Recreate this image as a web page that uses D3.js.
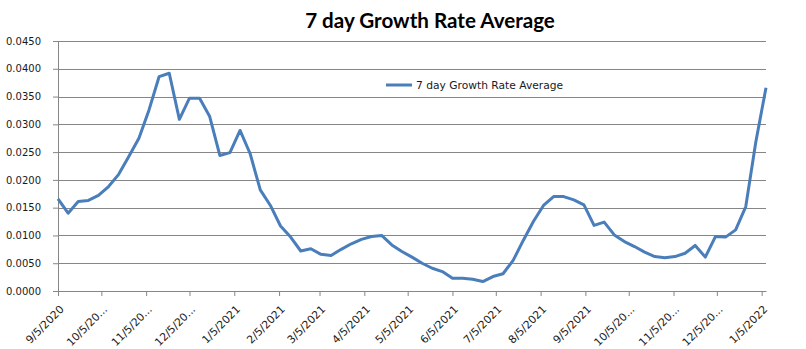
<!DOCTYPE html>
<html>
<head>
<meta charset="utf-8">
<script src="https://cdn.jsdelivr.net/npm/d3@7"></script>
<style>
  body { margin: 0; background: #fff; }
  svg { display: block; }
</style>
</head>
<body>
<div id="chart"></div>
<script>
// weekly points, first one on 9/5/2020
var startDate = "2020-09-05";
var growth = [
  0.0166, 0.0140, 0.0161, 0.0163, 0.0172, 0.0188, 0.0210, 0.0242, 0.0275, 0.0326,
  0.0386, 0.0392, 0.0309, 0.0347, 0.0347, 0.0314, 0.0244, 0.0249, 0.0289, 0.0247,
  0.0182, 0.0154, 0.0117, 0.0097, 0.0072, 0.0076, 0.0066, 0.0064, 0.0075, 0.0085,
  0.0093, 0.0098, 0.0100, 0.0083, 0.0071, 0.0061, 0.0050, 0.0041, 0.0035, 0.0023,
  0.0023, 0.0021, 0.0017, 0.0026, 0.0031, 0.0055, 0.0091, 0.0125, 0.0154, 0.0170,
  0.0170, 0.0164, 0.0155, 0.0118, 0.0124, 0.0101, 0.0089, 0.0080, 0.0070, 0.0062,
  0.0060, 0.0062, 0.0068, 0.0082, 0.0061, 0.0098, 0.0097, 0.0110, 0.0152, 0.0269,
  0.0366
];
var tickDates = ["2020-09-05","2020-10-05","2020-11-05","2020-12-05","2021-01-05","2021-02-05",
  "2021-03-05","2021-04-05","2021-05-05","2021-06-05","2021-07-05","2021-08-05","2021-09-05",
  "2021-10-05","2021-11-05","2021-12-05","2022-01-05"];
var tickLabels = ["9/5/2020","10/5/20...","11/5/20...","12/5/20...","1/5/2021","2/5/2021",
  "3/5/2021","4/5/2021","5/5/2021","6/5/2021","7/5/2021","8/5/2021","9/5/2021",
  "10/5/20...","11/5/20...","12/5/20...","1/5/2022"];
var yTicks = [0, 0.005, 0.01, 0.015, 0.02, 0.025, 0.03, 0.035, 0.04, 0.045];
var seriesName = "7 day Growth Rate Average";

var W = 806, H = 349;
var margin = {top: 41, right: 40, bottom: 58, left: 58},
    width = W - margin.left - margin.right,
    height = H - margin.top - margin.bottom;

var parse = d3.utcParse("%Y-%m-%d");
var t0 = parse(startDate);
var data = growth.map(function(v, i) {
  return {date: d3.utcDay.offset(t0, i * 7), value: v};
});

var svg = d3.select("#chart").append("svg")
    .attr("width", W)
    .attr("height", H);

var g = svg.append("g")
    .attr("transform", "translate(" + margin.left + "," + margin.top + ")");

var x = d3.scaleUtc()
    .domain([t0, data[data.length - 1].date])
    .range([0, width]);

var y = d3.scaleLinear()
    .domain([0, 0.045])
    .range([height, 0]);

// gridlines
g.append("g").selectAll("line")
  .data(yTicks)
  .enter().append("line")
    .attr("x1", 0).attr("x2", width)
    .attr("y1", function(d) { return Math.round(y(d)) + 0.5; })
    .attr("y2", function(d) { return Math.round(y(d)) + 0.5; })
    .attr("stroke", "#868686")
    .attr("stroke-width", 1);

// y axis
var yAxis = d3.axisLeft(y)
    .tickValues(yTicks)
    .tickSize(5)
    .tickPadding(12)
    .tickFormat(d3.format(".4f"));
var ya = g.append("g").call(yAxis);
ya.select(".domain").attr("stroke", "#868686");
ya.selectAll(".tick line").attr("stroke", "#868686");
ya.selectAll("text")
    .style("font-family", "DejaVu Sans")
    .style("font-size", "10px")
    .attr("fill", "#1a1a1a");

// x axis
var xAxis = d3.axisBottom(x)
    .tickValues(tickDates.map(parse))
    .tickSize(5)
    .tickSizeOuter(0)
    .tickFormat(function(d, i) { return tickLabels[i]; });
var xa = g.append("g")
    .attr("transform", "translate(0," + height + ")")
    .call(xAxis);
xa.select(".domain").attr("stroke", "#868686");
xa.selectAll(".tick line").attr("stroke", "#868686");
xa.selectAll("text")
    .style("font-family", "DejaVu Sans")
    .style("font-size", "10.8px")
    .attr("fill", "#1a1a1a")
    .attr("text-anchor", "end")
    .attr("dy", null)
    .attr("y", null)
    .attr("transform", "translate(6,19) rotate(-45)");

// the line
var line = d3.line()
    .x(function(d) { return x(d.date); })
    .y(function(d) { return y(d.value); });

g.append("path")
    .datum(data)
    .attr("fill", "none")
    .attr("stroke", "#4a7ebb")
    .attr("stroke-width", 3)
    .attr("stroke-linejoin", "round")
    .attr("d", line);

// title
svg.append("text")
    .attr("x", 430)
    .attr("y", 28)
    .attr("text-anchor", "middle")
    .style("font-family", "Lato")
    .style("font-weight", "bold")
    .style("font-size", "20.6px")
    .text(seriesName);

// legend
var lg = svg.append("g").attr("transform", "translate(386,85)");
lg.append("line")
    .attr("x1", 0).attr("x2", 26)
    .attr("y1", 0).attr("y2", 0)
    .attr("stroke", "#4a7ebb")
    .attr("stroke-width", 3);
lg.append("text")
    .attr("x", 30)
    .attr("y", 4)
    .style("font-family", "DejaVu Sans")
    .style("font-size", "10.7px")
    .attr("fill", "#1a1a1a")
    .text(seriesName);
</script>
</body>
</html>
